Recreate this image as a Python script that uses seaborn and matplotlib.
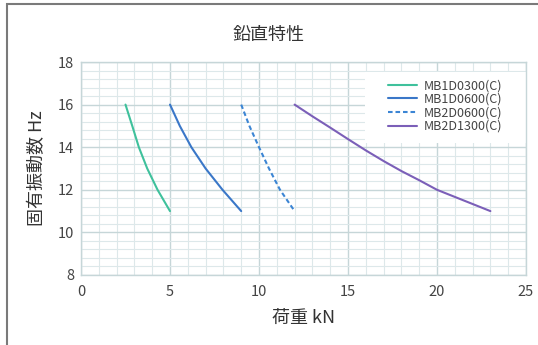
import numpy as np
import pandas as pd
import matplotlib
matplotlib.use("Agg")
import matplotlib.pyplot as plt
from matplotlib.patches import Rectangle
from matplotlib.ticker import MultipleLocator
import seaborn as sns

# values (load kN, natural frequency Hz)
mb1d0300_load = [2.5, 2.88, 3.25, 3.72, 4.3, 5.0]
mb1d0300_freq = [16, 15, 14, 13, 12, 11]

mb1d0600_load = [5.0, 5.55, 6.2, 7.0, 7.95, 9.0]
mb1d0600_freq = [16, 15, 14, 13, 12, 11]

mb2d0600_load = [9.0, 9.46, 10.0, 10.56, 11.18, 12.0]
mb2d0600_freq = [16, 15, 14, 13, 12, 11]

mb2d1300_load = [12, 13, 14, 15, 16, 17, 18, 19, 20, 21.5, 23]
mb2d1300_freq = [16, 15.45, 14.92, 14.38, 13.85, 13.35, 12.88, 12.45, 12, 11.5, 11]

series_names = ["MB1D0300(C)", "MB1D0600(C)", "MB2D0600(C)", "MB2D1300(C)"]
series_colors = ["#3fc19c", "#3a77c8", "#3b85d4", "#7b5fb8"]
series_styles = ["-", "-", (0, (2.2, 1.4)), "-"]

x_ticks = [0, 5, 10, 15, 20, 25]
y_ticks = [8, 10, 12, 14, 16, 18]

sns.set_style("white")
plt.rcParams['font.family'] = ['Noto Sans CJK JP', 'DejaVu Sans']

fig = plt.figure(figsize=(5.38, 3.45), dpi=100)
ax = fig.add_axes([81 / 538, 1 - 275 / 345, 445 / 538, 213 / 345])

# outer frame of the picture (only top and left visible)
fig.patches.append(Rectangle((7 / 538, -0.1), 1.2, 1 - 4 / 345 + 0.1,
                             transform=fig.transFigure, fill=False,
                             edgecolor="#7a7a7a", linewidth=1.5))

loads = [mb1d0300_load, mb1d0600_load, mb2d0600_load, mb2d1300_load]
freqs = [mb1d0300_freq, mb1d0600_freq, mb2d0600_freq, mb2d1300_freq]

for name, xs, ys, col, ls in zip(series_names, loads, freqs, series_colors, series_styles):
    df = pd.DataFrame({"load": xs, "freq": ys})
    sns.lineplot(data=df, x="load", y="freq", sort=False, color=col,
                 linestyle=ls, linewidth=1.5, label=name, ax=ax, zorder=3)

ax.set_xlim(0, 25)
ax.set_ylim(8, 18)
ax.set_xticks(x_ticks)
ax.set_yticks(y_ticks)
ax.xaxis.set_minor_locator(MultipleLocator(1))
ax.yaxis.set_minor_locator(MultipleLocator(0.4))
ax.grid(which="major", color="#c6d6d8", linewidth=1.0, zorder=0)
ax.grid(which="minor", color="#dde8ea", linewidth=0.8, zorder=0)
ax.set_axisbelow(True)
for sp in ax.spines.values():
    sp.set_color("#c6d6d8")
    sp.set_linewidth(1.0)
ax.tick_params(which="both", length=0)
ax.tick_params(axis="x", pad=7, labelsize=10.5, labelcolor="#444444")
ax.tick_params(axis="y", pad=5, labelsize=10.5, labelcolor="#444444")

ax.set_xlabel("荷重 kN", fontsize=13, color="#333333", labelpad=7)
ax.set_ylabel("固有振動数 Hz", fontsize=13, color="#333333", labelpad=8)
fig.text(0.5, 1 - 35 / 345, "鉛直特性", ha="center", va="center",
         fontsize=13, color="#333333")

# white box behind the legend, covering the grid
ax.add_patch(Rectangle((0.638, 0.62), 0.362, 0.333, transform=ax.transAxes,
                       facecolor="white", edgecolor="none", zorder=2))

leg = ax.legend(loc="upper left", bbox_to_anchor=(0.69, 0.92), frameon=False,
                fontsize=9, handlelength=2.3, handletextpad=0.55,
                labelspacing=0.05, borderpad=0, borderaxespad=0)
for t in leg.get_texts():
    t.set_color("#444444")

fig.savefig("out.png", dpi=100)
